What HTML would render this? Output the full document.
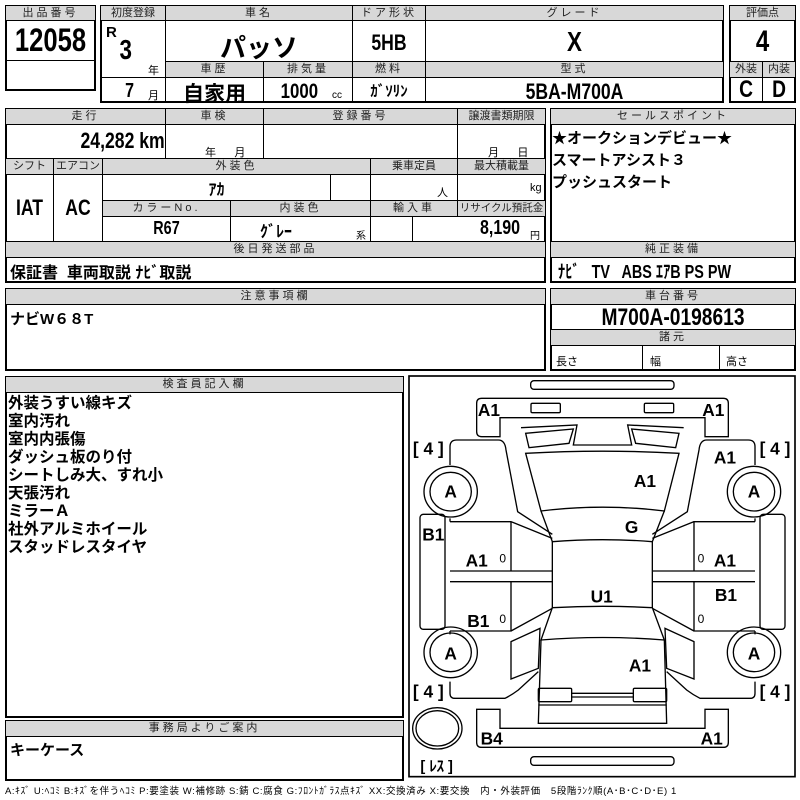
<!DOCTYPE html>
<html><head><meta charset="utf-8"><style>
body{margin:0;width:800px;height:800px;background:#fff;position:relative;overflow:hidden;font-family:"Liberation Sans","Noto Sans CJK JP",sans-serif;color:#000}
.b{position:absolute;border:1px solid #000;box-sizing:border-box}
.o{position:absolute;border:2px solid #000;box-sizing:border-box}
.h{background:#d8d8d8;font-size:11px;text-align:center;line-height:14px;letter-spacing:3px;color:#222;white-space:nowrap;overflow:hidden}
.t{position:absolute;white-space:nowrap}
.v{font-weight:bold;transform:scaleX(.8);transform-origin:center}
</style></head><body>
<div class="o" style="left:5px;top:5px;width:91px;height:86px"></div>
<div class="b h" style="left:5px;top:5px;width:91px;height:16px">出品番号</div>
<div class="b" style="left:5px;top:60px;width:91px;height:31px"></div>
<div class="t v" style="left:5px;top:22px;width:91px;text-align:center;font-size:32px">12058</div>
<div class="o" style="left:100px;top:5px;width:624px;height:98px"></div>
<div class="b h" style="left:100px;top:5px;width:66px;height:16px;letter-spacing:0">初度登録</div>
<div class="b h" style="left:165px;top:5px;width:188px;height:16px">車名</div>
<div class="b h" style="left:352px;top:5px;width:74px;height:16px">ドア形状</div>
<div class="b h" style="left:425px;top:5px;width:299px;height:16px">グレード</div>
<div class="b" style="left:165px;top:20px;width:188px;height:42px"></div>
<div class="b" style="left:352px;top:20px;width:74px;height:42px"></div>
<div class="b h" style="left:165px;top:61px;width:99px;height:17px">車歴</div>
<div class="b h" style="left:263px;top:61px;width:90px;height:17px">排気量</div>
<div class="b h" style="left:352px;top:61px;width:74px;height:17px">燃料</div>
<div class="b h" style="left:425px;top:61px;width:299px;height:17px">型式</div>
<div class="b" style="left:100px;top:77px;width:66px;height:26px"></div>
<div class="b" style="left:165px;top:77px;width:99px;height:26px"></div>
<div class="b" style="left:263px;top:77px;width:90px;height:26px"></div>
<div class="b" style="left:352px;top:77px;width:74px;height:26px"></div>
<div class="t" style="left:106px;top:24px;font-weight:bold;font-size:15px">R</div>
<div class="t v" style="left:118px;top:34px;font-size:28px">3</div>
<div class="t" style="left:148px;top:62px;font-size:11px">年</div>
<div class="t v" style="left:124px;top:80px;font-size:20px">7</div>
<div class="t" style="left:148px;top:87px;font-size:11px">月</div>
<div class="t" style="left:165px;top:28px;width:188px;text-align:center;font-size:26px;font-weight:bold">パッソ</div>
<div class="t v" style="left:352px;top:30px;width:74px;text-align:center;font-size:22px">5HB</div>
<div class="t v" style="left:425px;top:26px;width:299px;text-align:center;font-size:28px">X</div>
<div class="t" style="left:165px;top:78px;width:99px;text-align:center;font-size:21px;font-weight:bold">自家用</div>
<div class="t v" style="left:276px;top:80px;font-size:21px">1000</div>
<div class="t" style="left:332px;top:90px;font-size:10px">cc</div>
<div class="t" style="left:352px;top:80px;width:74px;text-align:center;font-size:15px;font-weight:bold">ｶﾞｿﾘﾝ</div>
<div class="t v" style="left:425px;top:79px;width:299px;text-align:center;font-size:22px">5BA-M700A</div>
<div class="o" style="left:729px;top:5px;width:67px;height:98px"></div>
<div class="b h" style="left:729px;top:5px;width:67px;height:16px;letter-spacing:0">評価点</div>
<div class="b h" style="left:729px;top:61px;width:34px;height:17px;letter-spacing:0">外装</div>
<div class="b h" style="left:762px;top:61px;width:34px;height:17px;letter-spacing:0">内装</div>
<div class="b" style="left:762px;top:77px;width:34px;height:26px"></div>
<div class="t v" style="left:729px;top:25px;width:67px;text-align:center;font-size:30px">4</div>
<div class="t v" style="left:729px;top:76px;width:34px;text-align:center;font-size:24px">C</div>
<div class="t v" style="left:762px;top:76px;width:34px;text-align:center;font-size:24px">D</div>
<div class="o" style="left:5px;top:108px;width:541px;height:175px"></div>
<div class="b h" style="left:5px;top:108px;width:161px;height:17px">走行</div>
<div class="b h" style="left:165px;top:108px;width:99px;height:17px">車検</div>
<div class="b h" style="left:263px;top:108px;width:195px;height:17px">登録番号</div>
<div class="b h" style="left:457px;top:108px;width:89px;height:17px;letter-spacing:0">譲渡書類期限</div>
<div class="b" style="left:165px;top:124px;width:99px;height:35px"></div>
<div class="b" style="left:457px;top:124px;width:89px;height:35px"></div>
<div class="t v" style="left:70px;top:128px;font-size:22px">24,282 km</div>
<div class="t" style="left:205px;top:144px;font-size:11px">年&nbsp;&nbsp;&nbsp;&nbsp;&nbsp;&nbsp;月</div>
<div class="t" style="left:488px;top:144px;font-size:11px">月&nbsp;&nbsp;&nbsp;&nbsp;&nbsp;&nbsp;日</div>
<div class="b h" style="left:5px;top:158px;width:49px;height:17px;letter-spacing:0">シフト</div>
<div class="b h" style="left:53px;top:158px;width:50px;height:17px;letter-spacing:0">エアコン</div>
<div class="b h" style="left:102px;top:158px;width:269px;height:17px">外装色</div>
<div class="b h" style="left:370px;top:158px;width:88px;height:17px;letter-spacing:0">乗車定員</div>
<div class="b h" style="left:457px;top:158px;width:89px;height:17px;letter-spacing:0">最大積載量</div>
<div class="b" style="left:5px;top:174px;width:49px;height:68px"></div>
<div class="b" style="left:53px;top:174px;width:50px;height:68px"></div>
<div class="b" style="left:102px;top:174px;width:229px;height:27px"></div>
<div class="b" style="left:330px;top:174px;width:41px;height:27px"></div>
<div class="b" style="left:370px;top:174px;width:88px;height:27px"></div>
<div class="b h" style="left:102px;top:200px;width:129px;height:17px">カラーNo.</div>
<div class="b h" style="left:230px;top:200px;width:141px;height:17px">内装色</div>
<div class="b h" style="left:370px;top:200px;width:88px;height:17px">輸入車</div>
<div class="b h" style="left:457px;top:200px;width:89px;height:17px;letter-spacing:0;font-size:10.5px">リサイクル預託金</div>
<div class="b" style="left:102px;top:216px;width:129px;height:26px"></div>
<div class="b" style="left:230px;top:216px;width:141px;height:26px"></div>
<div class="b" style="left:370px;top:216px;width:43px;height:26px"></div>
<div class="t v" style="left:5px;top:195px;width:49px;text-align:center;font-size:22px">IAT</div>
<div class="t v" style="left:53px;top:195px;width:50px;text-align:center;font-size:22px">AC</div>
<div class="t" style="left:102px;top:176px;width:229px;text-align:center;font-size:16px;font-weight:bold">ｱｶ</div>
<div class="t" style="left:437px;top:184px;font-size:11px">人</div>
<div class="t" style="left:530px;top:182px;font-size:11px">kg</div>
<div class="t v" style="left:102px;top:218px;width:129px;text-align:center;font-size:18px">R67</div>
<div class="t" style="left:260px;top:218px;font-size:16px;font-weight:bold">ｸﾞﾚｰ</div>
<div class="t" style="left:356px;top:227px;font-size:10px">系</div>
<div class="t v" style="left:475px;top:217px;font-size:20px">8,190</div>
<div class="t" style="left:530px;top:227px;font-size:10px">円</div>
<div class="b h" style="left:5px;top:241px;width:541px;height:17px">後日発送部品</div>
<div class="t" style="left:10px;top:259px;font-size:16px;font-weight:bold">保証書&nbsp; 車両取説 ﾅﾋﾞ取説</div>
<div class="o" style="left:550px;top:108px;width:246px;height:175px"></div>
<div class="b h" style="left:550px;top:108px;width:246px;height:17px">セールスポイント</div>
<div class="b h" style="left:550px;top:241px;width:246px;height:17px">純正装備</div>
<div class="t" style="left:552px;top:128px;font-size:15px;font-weight:bold;line-height:22px">★オークションデビュー★<br>スマートアシスト３<br>プッシュスタート</div>
<div class="t v" style="left:558px;top:258px;font-size:18px;transform-origin:left">ﾅﾋﾞ&nbsp;&nbsp; TV&nbsp;&nbsp; ABS ｴｱB PS PW</div>
<div class="o" style="left:5px;top:288px;width:541px;height:83px"></div>
<div class="b h" style="left:5px;top:288px;width:541px;height:17px">注意事項欄</div>
<div class="t" style="left:10px;top:308px;font-size:15px;font-weight:bold">ナビW６８T</div>
<div class="o" style="left:550px;top:288px;width:246px;height:83px"></div>
<div class="b h" style="left:550px;top:288px;width:246px;height:17px">車台番号</div>
<div class="b h" style="left:550px;top:329px;width:246px;height:17px">諸元</div>
<div class="b" style="left:642px;top:345px;width:78px;height:26px"></div>
<div class="t v" style="left:550px;top:304px;width:246px;text-align:center;font-size:24px">M700A-0198613</div>
<div class="t" style="left:556px;top:353px;font-size:11px">長さ</div>
<div class="t" style="left:650px;top:353px;font-size:11px">幅</div>
<div class="t" style="left:726px;top:353px;font-size:11px">高さ</div>
<div class="o" style="left:5px;top:376px;width:399px;height:342px"></div>
<div class="b h" style="left:5px;top:376px;width:399px;height:17px">検査員記入欄</div>
<div class="t" style="left:8px;top:395px;font-size:15.5px;font-weight:bold;line-height:18px">外装うすい線キズ<br>室内汚れ<br>室内内張傷<br>ダッシュ板のり付<br>シートしみ大、すれ小<br>天張汚れ<br>ミラーＡ<br>社外アルミホイール<br>スタッドレスタイヤ</div>
<div class="o" style="left:5px;top:720px;width:399px;height:61px"></div>
<div class="b h" style="left:5px;top:720px;width:399px;height:17px">事務局よりご案内</div>
<div class="t" style="left:10px;top:739px;font-size:15px;font-weight:bold">キーケース</div>
<div class="t" style="left:5px;top:783px;font-size:9.5px;letter-spacing:0.6px">A:ｷｽﾞ U:ﾍｺﾐ B:ｷｽﾞを伴うﾍｺﾐ P:要塗装 W:補修跡 S:錆 C:腐食 G:ﾌﾛﾝﾄｶﾞﾗｽ点ｷｽﾞ XX:交換済み X:要交換　内・外装評価　5段階ﾗﾝｸ順(A･B･C･D･E) 1</div>
<svg style="position:absolute;left:405px;top:375px" width="395" height="425" viewBox="0 0 1185 1275" fill="none" stroke="#000" stroke-width="4">
<rect x="12" y="3" width="1158" height="1202" stroke-width="5"/>
<rect x="377" y="17" width="430" height="26" rx="10"/>
<rect x="377" y="1145" width="430" height="26" rx="10"/>
<path d="M230,70 H955 Q970,70 970,85 V185 H900 V128 H285 V185 H230 Q215,185 215,170 V85 Q215,70 230,70Z"/>
<rect x="378" y="85" width="88" height="28" rx="4"/>
<rect x="718" y="85" width="88" height="28" rx="4"/>
<path d="M215,1003 H285 V1060 H900 V1003 H970 V1102 Q970,1117 955,1117 H230 Q215,1117 215,1102Z"/>
<path d="M348,158 L516,150 L505,210 L680,210 L668,150 L836,158"/>
<path d="M362,175 L505,162 L492,205 L372,218Z"/>
<path d="M680,162 L822,175 L812,218 L692,205Z"/>
<path d="M362,235 Q593,222 822,235 L778,408 Q593,385 408,408Z"/>
<path d="M408,408 L442,500 Q593,488 742,500 L778,408"/>
<path d="M442,500 V698 M742,500 V698"/>
<path d="M442,698 Q593,690 742,698 L778,795 Q593,780 408,795Z"/>
<path d="M408,795 L400,1045 H785 L778,795"/>
<rect x="400" y="940" width="100" height="40" rx="4"/>
<rect x="685" y="940" width="100" height="40" rx="4"/>
<path d="M500,955 H685 M500,966 H685 M400,990 H785"/>
<path d="M135,270 V215 Q135,195 155,195 H280 Q300,195 303,225 L338,410 L442,478"/>
<path d="M135,440 H318 V588 H135 M318,440 L442,490 M135,588 H442 M135,620 H442 M135,620 H318 V768 H135 M318,768 L442,700 M135,440 V430 M135,768 V778"/>
<path d="M318,800 L405,760 L400,880 L318,912Z"/>
<path d="M135,920 V955 Q135,970 150,970 H300 Q320,960 340,945 L400,890"/>
<path d="M1050,270 V215 Q1050,195 1030,195 H905 Q885,195 882,225 L847,410 L742,478"/>
<path d="M1050,440 H867 V588 H1050 M867,440 L742,490 M1050,588 H742 M1050,620 H742 M1050,620 H867 V768 H1050 M867,768 L742,700 M1050,440 V430 M1050,768 V778"/>
<path d="M867,800 L780,760 L785,880 L867,912Z"/>
<path d="M1050,920 V955 Q1050,970 1035,970 H885 Q865,960 845,945 L785,890"/>
<rect x="45" y="418" width="75" height="345" rx="10"/>
<rect x="1065" y="418" width="75" height="345" rx="10"/>
<g><ellipse cx="137" cy="350" rx="80" ry="76"/><ellipse cx="137" cy="350" rx="62" ry="58"/>
<ellipse cx="137" cy="832" rx="80" ry="76"/><ellipse cx="137" cy="832" rx="62" ry="58"/>
<ellipse cx="1047" cy="350" rx="80" ry="76"/><ellipse cx="1047" cy="350" rx="62" ry="58"/>
<ellipse cx="1047" cy="832" rx="80" ry="76"/><ellipse cx="1047" cy="832" rx="62" ry="58"/>
<ellipse cx="97" cy="1060" rx="74" ry="62"/><ellipse cx="97" cy="1060" rx="64" ry="53"/></g>
<g fill="#000" stroke="none" font-family="Liberation Sans, sans-serif" font-weight="bold" font-size="52" text-anchor="middle">
<text x="252" y="123">A1</text><text x="925" y="123">A1</text>
<text x="960" y="266">A1</text><text x="720" y="336">A1</text>
<text x="137" y="368">A</text><text x="1047" y="368">A</text>
<text x="85" y="496">B1</text><text x="680" y="474">G</text>
<text x="215" y="574">A1</text><text x="960" y="574">A1</text>
<text x="590" y="683">U1</text><text x="963" y="678">B1</text>
<text x="220" y="756">B1</text>
<text x="137" y="853">A</text><text x="1047" y="853">A</text>
<text x="705" y="890">A1</text>
<text x="260" y="1108">B4</text><text x="920" y="1108">A1</text>
<text x="70" y="238">[ 4 ]</text><text x="1110" y="238">[ 4 ]</text>
<text x="70" y="968">[ 4 ]</text><text x="1110" y="968">[ 4 ]</text>
<text x="95" y="1188" font-size="44">[ ﾚｽ ]</text>
<text x="293" y="562" font-size="36" font-weight="normal">0</text><text x="888" y="562" font-size="36" font-weight="normal">0</text>
<text x="293" y="744" font-size="36" font-weight="normal">0</text><text x="888" y="744" font-size="36" font-weight="normal">0</text>
</g>
</svg>
</body></html>
